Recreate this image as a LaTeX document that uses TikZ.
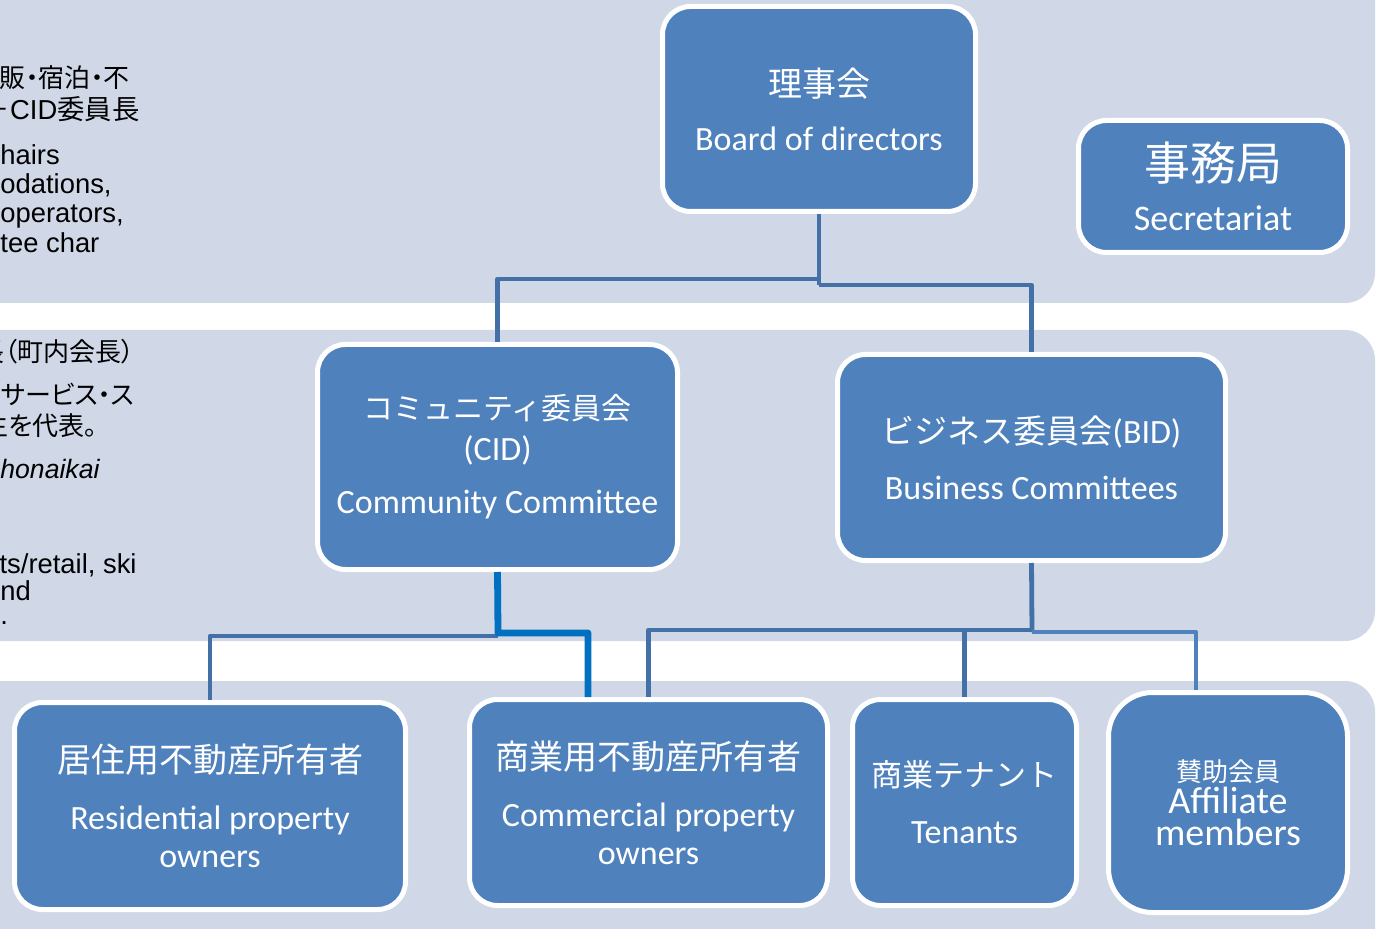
\documentclass[tikz,border=0pt]{standalone}
\usepackage{fontspec}
\setmainfont{Carlito}
\newfontfamily\jp{Noto Sans CJK JP}
\newfontfamily\jpp[RawFeature=+palt]{Noto Sans CJK JP}
\newfontfamily\arial{Liberation Sans}
\definecolor{boxblue}{HTML}{4F81BD}
\definecolor{bandgray}{HTML}{D0D8E8}
\definecolor{linkblue}{HTML}{4470A8}
\definecolor{brightblue}{HTML}{0070C0}

\begin{document}
\begin{tikzpicture}[x=0.5pt, y=-0.5pt,
    box/.style={rectangle, rounded corners=14pt, draw=white, line width=2.5pt, fill=boxblue, text=white, align=center, inner sep=0pt, font=\fontsize{17}{28}\selectfont},
    link/.style={draw=linkblue, line width=2.4pt, line join=round},
    note/.style={inner sep=0pt, text=black, font=\arial\fontsize{13.7}{14}\selectfont},
    jpnote/.style={inner sep=0pt, text=black, font=\jpp\fontsize{13}{14}\selectfont}]
        \useasboundingbox (0,0) rectangle (1379,929);
        \clip (0,0) rectangle (1379,929);

        % bands
        \fill[bandgray, rounded corners=15pt] (-60,-60) rectangle (1375,303);
        \fill[bandgray, rounded corners=15pt] (-60,330) rectangle (1375,641);
        \fill[bandgray, rounded corners=15pt] (-60,681) rectangle (1375,990);

        % notes on the left
        \node[jpnote, anchor=base east] (note1) at (130,88) {販・宿泊・不};
        \node[note, anchor=base east] (note2) at (140,120) {{\jpp ＋}CID{\jpp 委員長}};
        \node[note, anchor=base west] (note3) at (0,165) {hairs};
        \node[note, anchor=base west] (note4) at (0,194) {odations,};
        \node[note, anchor=base west] (note5) at (0,223) {operators,};
        \node[note, anchor=base west] (note6) at (0,253) {tee char};
        \node[jpnote, anchor=base east] (note7) at (135,362) {長（町内会長）};
        \node[jpnote, anchor=base east] (note8) at (135,405) {サービス・ス};
        \node[jpnote, anchor=base east] (note9) at (98,436) {生を代表。};
        \node[note, anchor=base west, font=\arial\itshape\fontsize{13.3}{14}\selectfont] (note10) at (0,479) {honaikai};
        \node[note, anchor=base east] (note11) at (137,573) {nts/retail, ski};
        \node[note, anchor=base west] (note12) at (0,600) {nd};
        \node[note, anchor=base west] (note13) at (0,624) {.};

        % boxes
        \node[box, minimum width=156.5pt, minimum height=102.5pt] (board) at (819,109) {{\jp 理事会}\\[-1pt]Board of directors};
        \node[box, minimum width=134.5pt, minimum height=66pt, font=\fontsize{18}{26.5}\selectfont] (sec) at (1213,186.5) {{\jp\fontsize{23}{26.5}\selectfont 事務局}\\[-1.5pt]Secretariat};
        \node[box, minimum width=180pt, minimum height=112.5pt] (cid) at (497.5,457) {{\jp\fontsize{15}{28}\selectfont コミュニティ委員会}\\[-7.5pt](CID)\\[-1.5pt]Community Committee};
        \node[box, minimum width=194pt, minimum height=103pt] (bid) at (1031.5,457.5) {{\jp\fontsize{16.5}{28}\selectfont ビジネス委員会}(BID)\\Business Committees};
        \node[box, minimum width=195.5pt, minimum height=103.5pt] (res) at (210,806) {{\jp 居住用不動産所有者}\\[0.5pt]Residential property\\[-9pt]owners};
        \node[box, minimum width=179pt, minimum height=103pt] (com) at (648.5,802.5) {{\jp 商業用不動産所有者}\\[0.5pt]Commercial property\\[-9pt]owners};
        \node[box, minimum width=112pt, minimum height=103pt] (ten) at (964.5,802.5) {{\jp\fontsize{15.5}{28}\selectfont 商業テナント}\\[0.5pt]Tenants};
        \node[box, rounded corners=22pt, minimum width=119.5pt, minimum height=110pt, font=\fontsize{19}{16}\selectfont] (aff) at (1228,802.5) {{\jp\fontsize{13}{16}\selectfont 賛助会員}\\Affiliate\\members};

        % connectors
        \coordinate (t1) at (819,279);
        \coordinate (t2) at (819,285);
        \draw[link] (board.south) -- (t2);
        \draw[link] (t1) -| (cid.north);
        \draw[link] (t2) -| (bid.north);

        \coordinate (c1) at (498,633);
        \coordinate (c2) at (498,636);
        \coordinate (c3) at (588,633);
        \draw[link] (c2) -| (res.north);
        \draw[brightblue, line width=3.4pt, line join=round] (cid.south) -- (c1) -- (c3) -- (c3 |- com.north);

        \coordinate (b1) at (1032,630);
        \coordinate (b2) at (1032,632);
        \coordinate (b3) at (1196,632);
        \draw[link] (bid.south) -- (b2);
        \draw[link] (b1) -| (com.north);
        \draw[link] (ten.north) -- (ten.north |- b1);
        \draw[link, draw=boxblue] (b2) -- (b3) -- (b3 |- aff.north);
      \end{tikzpicture}
\end{document}
